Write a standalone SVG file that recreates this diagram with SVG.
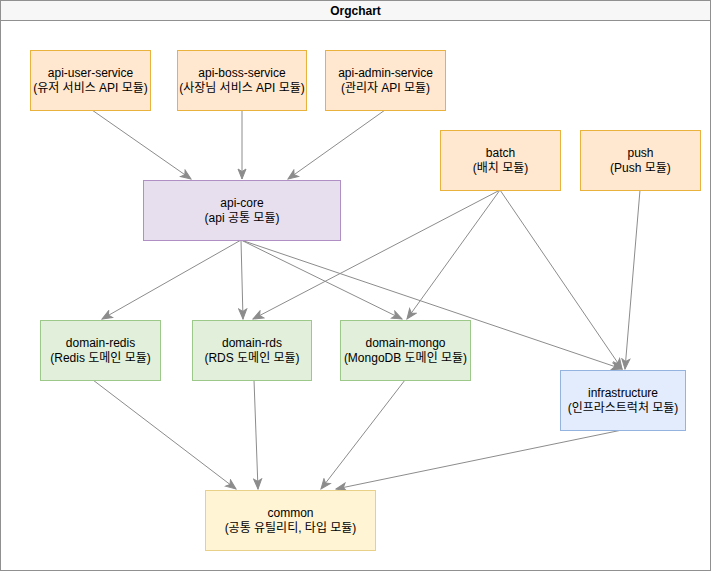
<svg xmlns="http://www.w3.org/2000/svg" width="711" height="571" viewBox="0 0 711 571">
<style>
  text { font-family: "Liberation Sans", "Noto Sans CJK KR", sans-serif; font-size: 12px; fill: #000; text-anchor: middle; }
  .title { font-weight: bold; }
  .orange { fill: #ffe8cf; stroke: #e8b23c; }
  .purple { fill: #e8dfee; stroke: #b08fc4; }
  .green { fill: #e1efdb; stroke: #9cc98a; }
  .blue { fill: #e2ecfc; stroke: #95b3df; }
  .yellow { fill: #fff4d4; stroke: #e8d088; }
  .edge { fill: none; stroke: #8c8c8c; stroke-width: 1; marker-end: url(#arr); }
</style>
<defs>
  <marker id="arr" markerUnits="userSpaceOnUse" markerWidth="12" markerHeight="10" viewBox="0 0 12 10" refX="11" refY="5" orient="auto">
    <path d="M1,1 L11,5 L1,9 L3.5,5 Z" fill="#8c8c8c" stroke="#8c8c8c" stroke-width="1"/>
  </marker>
</defs>
<g id="frame">
  <rect x="0.5" y="0.5" width="710" height="570" fill="#ffffff" stroke="#909090"/>
  <rect x="0.5" y="0.5" width="710" height="20" fill="#f7f7f7" stroke="#909090"/>
  <text class="title" x="355.5" y="15">Orgchart</text>
</g>
<g id="connectors">
  <path class="edge" d="M92,110 L191,179"/>
  <path class="edge" d="M242,110 L242,179"/>
  <path class="edge" d="M385,110 L288,179"/>
  <path class="edge" d="M241,240 L102,319"/>
  <path class="edge" d="M241,240 L243,319"/>
  <path class="edge" d="M241,240 L402,319"/>
  <path class="edge" d="M241,240 L622,369"/>
  <path class="edge" d="M500,190 L253,319"/>
  <path class="edge" d="M500,190 L407,319"/>
  <path class="edge" d="M500,190 L622,369"/>
  <path class="edge" d="M640,190 L625,369"/>
  <path class="edge" d="M93,380 L236,489"/>
  <path class="edge" d="M254,380 L258,489"/>
  <path class="edge" d="M405,380 L321,489"/>
  <path class="edge" d="M622,430 L336,489"/>
</g>
<g id="api-user-service">
  <rect class="orange" x="30.5" y="50.5" width="120" height="60"/>
  <text x="90.5" y="77">api-user-service</text>
  <text x="90.5" y="92">(유저 서비스 API 모듈)</text>
</g>
<g id="api-boss-service">
  <rect class="orange" x="177.5" y="50.5" width="129" height="60"/>
  <text x="242" y="77">api-boss-service</text>
  <text x="242" y="92">(사장님 서비스 API 모듈)</text>
</g>
<g id="api-admin-service">
  <rect class="orange" x="325.5" y="50.5" width="120" height="60"/>
  <text x="385.5" y="77">api-admin-service</text>
  <text x="385.5" y="92">(관리자 API 모듈)</text>
</g>
<g id="api-core">
  <rect class="purple" x="143.5" y="180.5" width="197" height="60"/>
  <text x="242" y="207">api-core</text>
  <text x="242" y="222">(api 공통 모듈)</text>
</g>
<g id="batch">
  <rect class="orange" x="440.5" y="130.5" width="120" height="60"/>
  <text x="500.5" y="157">batch</text>
  <text x="500.5" y="172">(배치 모듈)</text>
</g>
<g id="push">
  <rect class="orange" x="580.5" y="130.5" width="120" height="60"/>
  <text x="640.5" y="157">push</text>
  <text x="640.5" y="172">(Push 모듈)</text>
</g>
<g id="domain-redis">
  <rect class="green" x="40.5" y="320.5" width="120" height="60"/>
  <text x="100.5" y="347">domain-redis</text>
  <text x="100.5" y="362">(Redis 도메인 모듈)</text>
</g>
<g id="domain-rds">
  <rect class="green" x="192.5" y="320.5" width="119" height="60"/>
  <text x="252" y="347">domain-rds</text>
  <text x="252" y="362">(RDS 도메인 모듈)</text>
</g>
<g id="domain-mongo">
  <rect class="green" x="340.5" y="320.5" width="130" height="60"/>
  <text x="405.5" y="347">domain-mongo</text>
  <text x="405.5" y="362">(MongoDB 도메인 모듈)</text>
</g>
<g id="infrastructure">
  <rect class="blue" x="560.5" y="370.5" width="125" height="60"/>
  <text x="623" y="397">infrastructure</text>
  <text x="623" y="412">(인프라스트럭처 모듈)</text>
</g>
<g id="common">
  <rect class="yellow" x="205.5" y="490.5" width="170" height="60"/>
  <text x="290.5" y="517">common</text>
  <text x="290.5" y="532">(공통 유틸리티, 타입 모듈)</text>
</g>
</svg>
